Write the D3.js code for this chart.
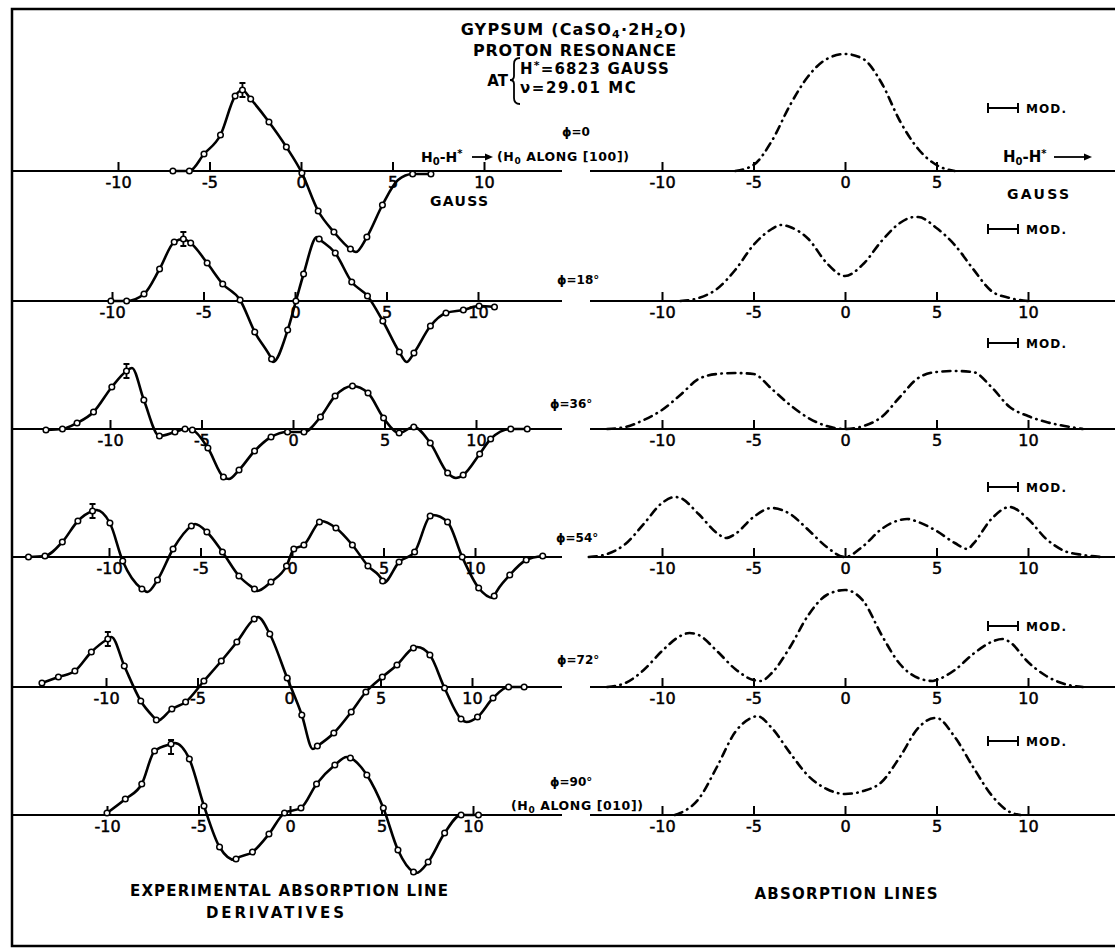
<!DOCTYPE html>
<html>
<head>
<meta charset="utf-8">
<script src="https://cdn.jsdelivr.net/npm/d3@7"></script>
<style>
  body { margin: 0; background: #fff; }
  svg { display: block; }
  svg text { font-family: "DejaVu Sans", sans-serif; fill: #000; }
</style>
</head>
<body>
<div id="gypsum_viz"></div>
<script>
// Angle labels and tick values
const phiLabels = ["\u03D5=0", "\u03D5=18\u00B0", "\u03D5=36\u00B0", "\u03D5=54\u00B0", "\u03D5=72\u00B0", "\u03D5=90\u00B0"];
const tickValues = [-10, -5, 0, 5, 10];
const topRightTicks = [-10, -5, 0, 5];

// Measured derivative points [gauss, signal]
const derivPhi0 = [[-7.0, 0], [-6.1, 0], [-5.3, 17], [-4.4, 36], [-3.6, 75], [-3.2, 81], [-2.75, 72], [-1.75, 49], [-0.8, 24], [0.05, -2], [0.94, -40], [1.8, -61], [2.7, -78], [3.6, -66], [4.45, -34], [6.1, -3], [7.1, -3]];
const derivPhi18 = [[-10.06, 0], [-9.2, 0], [-8.25, 7], [-7.4, 32], [-6.6, 59], [-6.1, 62], [-5.7, 58], [-4.8, 38], [-3.95, 17], [-3.0, 1], [-2.2, -31], [-1.28, -58], [-0.4, -29], [0.05, 0], [0.47, 27], [1.32, 62], [2.2, 48], [3.1, 19], [3.96, 5], [4.8, -20], [5.7, -51], [6.5, -52], [7.4, -25], [8.25, -12], [9.2, -9], [10.06, -5], [10.9, -6]];
const derivPhi36 = [[-13.5, -1], [-12.6, 0], [-11.8, 6], [-10.9, 17], [-9.9, 42], [-9.1, 58], [-8.15, 29], [-7.3, -7], [-6.45, -3], [-5.9, 0], [-5.5, -1], [-4.65, -19], [-3.8, -48], [-2.95, -41], [-2.1, -22], [-1.2, -8], [-0.3, -3], [0.6, -3], [1.5, 12], [2.3, 33], [3.25, 43], [4.1, 36], [4.95, 11], [5.8, -4], [6.6, 2], [7.5, -14], [8.45, -44], [9.3, -46], [10.2, -25], [10.8, -10], [11.9, 0], [12.8, 0]];
const derivPhi54 = [[-14.4, 0], [-13.5, 1], [-12.55, 15], [-11.7, 36], [-10.9, 46], [-9.95, 34], [-9.25, -4], [-8.2, -32], [-7.35, -23], [-6.5, 8], [-5.5, 31], [-4.65, 25], [-3.8, 5], [-2.9, -19], [-2.05, -32], [-1.15, -25], [-0.3, -9], [0.1, 8], [0.65, 12], [1.5, 35], [2.4, 29], [3.3, 12], [4.15, -9], [4.95, -24], [5.85, -5], [6.7, 5], [7.55, 41], [8.5, 35], [9.3, 0], [10.2, -31], [11.05, -39], [11.9, -18], [12.8, -3], [13.7, 1]];
const derivPhi72 = [[-13.5, 4], [-12.6, 10], [-11.7, 16], [-10.8, 35], [-9.9, 48], [-9.0, 21], [-8.1, -14], [-7.25, -33], [-6.4, -22], [-5.65, -15], [-4.65, 6], [-3.7, 26], [-2.85, 45], [-1.9, 68], [-1.05, 53], [-0.1, 9], [0.7, -28], [1.55, -59], [2.45, -46], [3.4, -25], [4.2, -5], [5.1, 10], [5.9, 22], [6.8, 39], [7.7, 32], [8.5, -1], [9.4, -32], [10.3, -30], [11.15, -11], [12.0, 0], [12.85, 0]];
const derivPhi90 = [[-10.0, 2], [-9.0, 16], [-8.1, 31], [-7.4, 64], [-6.5, 71], [-5.5, 56], [-4.7, 9], [-3.85, -32], [-2.95, -44], [-2.05, -37], [-1.15, -19], [-0.3, 2], [0.6, 7], [1.45, 31], [2.45, 50], [3.3, 57], [4.2, 40], [5.1, 7], [5.9, -35], [6.75, -57], [7.55, -47], [8.45, -18], [9.35, 0], [10.3, 0]];

// Extra knots of the drawn fit (extremes between measured points)
const fitPhi0 = [[3.0, -81], [5.3, -9]];
const fitPhi18 = [[-1.2, -61], [1.2, 64], [6.1, -61]];
const fitPhi36 = [[-8.8, 61], [-3.5, -50], [8.9, -49]];
const fitPhi54 = [[-10.7, 47], [-7.9, -35], [-5.3, 33], [-1.9, -34], [1.6, 36], [5.0, -26], [7.7, 42], [11.0, -41]];
const fitPhi72 = [[-9.7, 50], [-7.2, -34], [-1.7, 70], [1.3, -62], [7.0, 40], [9.7, -35]];
const fitPhi90 = [[-6.3, 72], [-3.0, -45], [3.1, 58], [6.9, -58]];

// Error bar positions [gauss, signal]
const errorBars = [[-3.2, 81], [-6.1, 62], [-9.1, 58], [-10.9, 46], [-9.9, 48], [-6.5, 68]];

// Absorption lines [gauss, intensity]
const absorbPhi0 = [[-6, 0], [-5, 6], [-4, 30], [-3, 66], [-2, 95], [-1, 112], [0, 117], [1, 112], [2, 88], [3, 50], [4, 22], [5, 6], [6, 0]];
const absorbPhi18 = [[-9, 0], [-8, 3], [-7, 12], [-6, 31], [-5, 56], [-4, 72], [-3.5, 76], [-3, 74], [-2, 62], [-1, 38], [0, 25], [1, 37], [2, 60], [3, 78], [3.8, 84], [4, 84], [5, 73], [6, 56], [7, 32], [8, 10], [9, 3], [10, 0]];
const absorbPhi36 = [[-13, 0], [-12, 2], [-11, 9], [-10, 19], [-9, 34], [-8, 50], [-7, 55], [-6, 56], [-5, 55], [-4, 40], [-3, 24], [-2, 11], [-1, 3], [0, 0], [1, 3], [2, 12], [3, 32], [4, 51], [5, 57], [6, 58], [7, 57], [8, 42], [9, 22], [10, 13], [11, 7], [12, 3], [13, 0]];
const absorbPhi54 = [[-14, 0], [-13, 3], [-12, 13], [-11, 33], [-10, 54], [-9.3, 60], [-9, 59], [-8, 43], [-7, 24], [-6.5, 19], [-6, 23], [-5, 40], [-4, 49], [-3, 43], [-2, 27], [-1, 10], [0, 0], [1, 11], [2, 28], [3, 37], [3.4, 38], [4, 35], [5, 26], [6, 14], [6.7, 8], [7, 13], [8, 38], [9, 50], [10, 38], [11, 18], [12, 6], [13, 2], [14, 0]];
const absorbPhi72 = [[-13, 0], [-12, 4], [-11, 17], [-10, 36], [-9, 51], [-8.5, 54], [-8, 52], [-7, 36], [-6, 18], [-5, 7], [-4.6, 6], [-4, 14], [-3, 40], [-2, 72], [-1, 92], [0, 97], [1, 86], [2, 52], [3, 23], [4, 9], [4.8, 6], [5, 7], [6, 17], [7, 33], [8, 45], [8.6, 48], [9, 45], [10, 25], [11, 11], [12, 3], [13, 0]];
const absorbPhi90 = [[-9.3, 0], [-9, 2], [-8, 16], [-7, 48], [-6, 83], [-5, 98], [-4.8, 99], [-4, 87], [-3, 62], [-2, 39], [-1, 26], [0, 21], [1, 24], [2, 33], [3, 58], [4, 87], [4.9, 97], [5, 97], [6, 78], [7, 48], [8, 20], [9, 3], [9.6, 0]];

const derivPoints = [derivPhi0, derivPhi18, derivPhi36, derivPhi54, derivPhi72, derivPhi90];
const fitKnots = [fitPhi0, fitPhi18, fitPhi36, fitPhi54, fitPhi72, fitPhi90];
const absorbLines = [absorbPhi0, absorbPhi18, absorbPhi36, absorbPhi54, absorbPhi72, absorbPhi90];

// Layout
const width = 1115, height = 949;
const rowBase = [171, 301, 429, 557, 687, 815];
const leftZero = [301, 295, 293, 292, 289, 290];
const rightZero = 845;
const unitPx = 18.3;
const phiX = [562, 557, 550, 556, 557, 550];
const phiY = [136, 284, 408, 542, 664, 786];
const modY = [108, 229, 343, 487, 626, 741];

const svg = d3.select("#gypsum_viz")
    .append("svg")
    .attr("width", width)
    .attr("height", height);

// Frame
svg.append("rect")
    .attr("x", 12)
    .attr("y", 9)
    .attr("width", 1130)
    .attr("height", 937)
    .attr("fill", "none")
    .attr("stroke", "#000")
    .attr("stroke-width", 2.5);

function label(x, y, str, size, anchor, len) {
    const t = svg.append("text")
        .attr("x", x)
        .attr("y", y)
        .attr("font-size", size)
        .attr("font-weight", "bold")
        .attr("text-anchor", anchor || "start")
        .text(str);
    if (len) t.attr("textLength", len).attr("lengthAdjust", "spacing");
    return t;
}

function arrow(x1, x2, y) {
    svg.append("line").attr("x1", x1).attr("x2", x2 - 6).attr("y1", y).attr("y2", y)
        .attr("stroke", "#000").attr("stroke-width", 1.8);
    svg.append("path")
        .attr("d", `M${x2},${y}L${x2 - 8},${y - 3.5}L${x2 - 8},${y + 3.5}Z`)
        .attr("fill", "#000");
}

function drawAxis(scale, base, ticks, x1, x2) {
    svg.append("line")
        .attr("x1", x1).attr("x2", x2)
        .attr("y1", base).attr("y2", base)
        .attr("stroke", "#000")
        .attr("stroke-width", 2.2);
    const g = svg.append("g")
        .attr("transform", `translate(0,${base})`)
        .call(d3.axisBottom(scale)
            .tickValues(ticks)
            .tickSize(-9)
            .tickPadding(6)
            .tickFormat((d) => String(d)));
    g.select(".domain").remove();
    g.selectAll(".tick line").attr("stroke-width", 2);
    g.selectAll(".tick text")
        .attr("font-size", 16)
        .attr("font-family", "DejaVu Sans, sans-serif")
        .attr("stroke", "#000")
        .attr("stroke-width", 0.5);
}

function modMarker(y) {
    const x1 = 988, x2 = 1018;
    svg.append("line").attr("x1", x1).attr("x2", x2).attr("y1", y).attr("y2", y)
        .attr("stroke", "#000").attr("stroke-width", 2);
    svg.selectAll(null).data([x1, x2]).enter().append("line")
        .attr("x1", (d) => d).attr("x2", (d) => d)
        .attr("y1", y - 5).attr("y2", y + 5)
        .attr("stroke", "#000").attr("stroke-width", 2);
    label(1026, y + 5, "MOD.", 12, "start", 40);
}

// Create the rows
derivPoints.forEach(function (pts, i) {
    const base = rowBase[i];
    const xl = d3.scaleLinear().domain([-10, 10]).range([leftZero[i] - 10 * unitPx, leftZero[i] + 10 * unitPx]);
    const xr = d3.scaleLinear().domain([-10, 10]).range([rightZero - 10 * unitPx, rightZero + 10 * unitPx]);
    const y = d3.scaleLinear().domain([0, 100]).range([base, base - 100]);

    drawAxis(xl, base, tickValues, 12, 562);
    drawAxis(xr, base, i === 0 ? topRightTicks : tickValues, 590, 1115);

    // Derivative fit line through points
    const knots = pts.concat(fitKnots[i]).sort((a, b) => a[0] - b[0]);
    svg.append("path")
        .datum(knots)
        .attr("fill", "none")
        .attr("stroke", "#000")
        .attr("stroke-width", 2.6)
        .attr("d", d3.line().x((d) => xl(d[0])).y((d) => y(d[1])).curve(d3.curveMonotoneX));

    // Error bar on the first peak
    const eb = errorBars[i];
    const ex = xl(eb[0]), ey = y(eb[1]);
    svg.append("path")
        .attr("d", `M${ex},${ey - 7}V${ey + 7}M${ex - 3},${ey - 7}H${ex + 3}M${ex - 3},${ey + 7}H${ex + 3}`)
        .attr("stroke", "#000")
        .attr("stroke-width", 1.8);

    // Measured points
    svg.selectAll(null)
        .data(pts)
        .enter()
        .append("circle")
        .attr("cx", (d) => xl(d[0]))
        .attr("cy", (d) => y(d[1]))
        .attr("r", 2.8)
        .attr("fill", "#fff")
        .attr("stroke", "#000")
        .attr("stroke-width", 1.5);

    // Absorption line, dash-dot
    svg.append("path")
        .datum(absorbLines[i])
        .attr("fill", "none")
        .attr("stroke", "#000")
        .attr("stroke-width", 2.6)
        .attr("stroke-linecap", "round")
        .attr("stroke-dasharray", "8,5.5,0.5,5.5")
        .attr("d", d3.line().x((d) => xr(d[0])).y((d) => y(d[1])).curve(d3.curveMonotoneX));

    label(phiX[i], phiY[i], phiLabels[i], 12, "start");
    modMarker(modY[i]);
});

// Title block
const t1 = label(574, 35, "GYPSUM (CaSO", 16, "middle").attr("letter-spacing", 1.2);
t1.append("tspan").attr("dy", 3).attr("font-size", 11).text("4");
t1.append("tspan").attr("dy", -3).text("\u00B72H");
t1.append("tspan").attr("dy", 3).attr("font-size", 11).text("2");
t1.append("tspan").attr("dy", -3).text("O)");
label(575, 56, "PROTON RESONANCE", 16, "middle").attr("letter-spacing", 0.8);
label(508, 86, "AT", 15, "end");
svg.append("path")
    .attr("d", "M520,58 Q514,58 514,64 L514,76 Q514,80 510,80 Q514,80 514,84 L514,98 Q514,104 520,104")
    .attr("fill", "none")
    .attr("stroke", "#000")
    .attr("stroke-width", 1.8);
const t3 = label(520, 74, "H", 15, "start").attr("letter-spacing", 1.2);
t3.append("tspan").attr("dy", -5).attr("font-size", 11).text("*");
t3.append("tspan").attr("dy", 5).text("=6823 GAUSS");
label(520, 93, "\u03BD=29.01 MC", 15, "start").attr("letter-spacing", 1.6);

// Field direction labels
const h1 = label(421, 162, "H", 14, "start");
h1.append("tspan").attr("dy", 3).attr("font-size", 10).text("0");
h1.append("tspan").attr("dy", -3).text("-H");
h1.append("tspan").attr("dy", -5).attr("font-size", 10).text("*");
arrow(472, 493, 157);
const h2 = label(497, 161, "(H", 12.5, "start").attr("letter-spacing", 0.6);
h2.append("tspan").attr("dy", 3).attr("font-size", 9).text("0");
h2.append("tspan").attr("dy", -3).text(" ALONG [100])");
const h3 = label(511, 810, "(H", 12.5, "start").attr("letter-spacing", 0.6);
h3.append("tspan").attr("dy", 3).attr("font-size", 9).text("0");
h3.append("tspan").attr("dy", -3).text(" ALONG [010])");
const h4 = label(1003, 162, "H", 15, "start");
h4.append("tspan").attr("dy", 3).attr("font-size", 10).text("0");
h4.append("tspan").attr("dy", -3).text("-H");
h4.append("tspan").attr("dy", -5).attr("font-size", 10).text("*");
arrow(1054, 1092, 157);

label(459, 206, "GAUSS", 14, "middle", 58);
label(1038, 199, "GAUSS", 14, "middle", 62);

// Panel captions
label(289, 896, "EXPERIMENTAL ABSORPTION LINE", 15, "middle", 318);
label(275, 918, "DERIVATIVES", 15, "middle", 138);
label(846, 899, "ABSORPTION LINES", 15, "middle", 183);
</script>
</body>
</html>
